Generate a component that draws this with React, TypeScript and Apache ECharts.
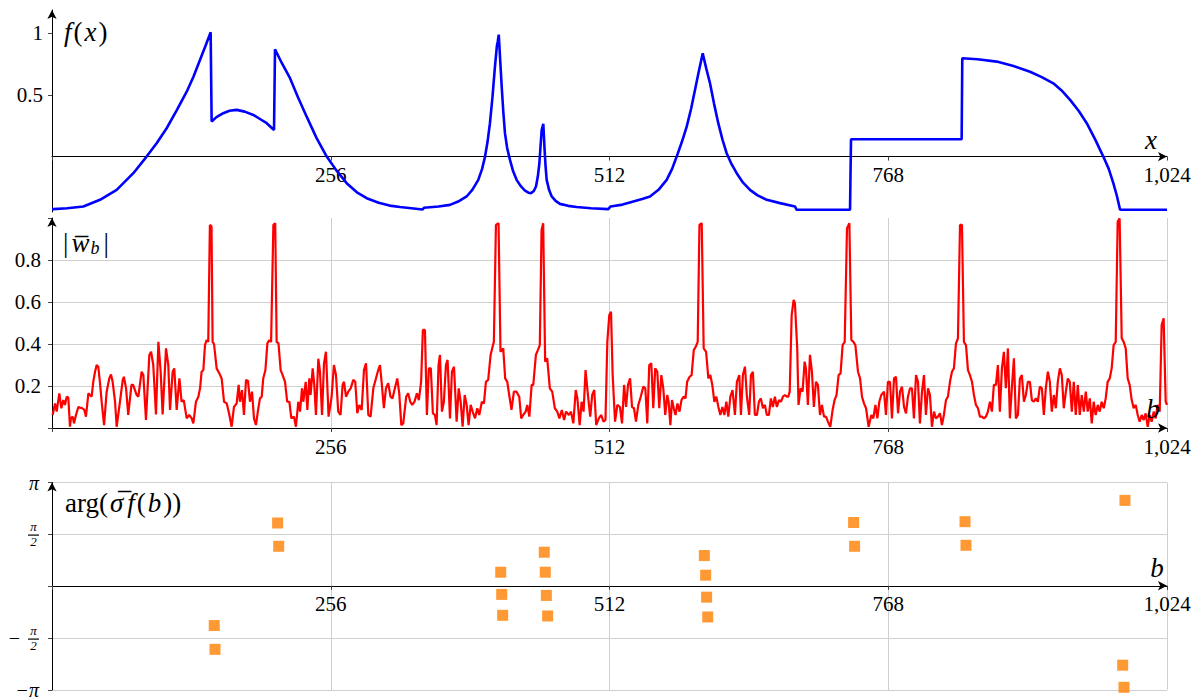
import React, { useEffect, useRef } from "react";
import * as echarts from "echarts";

const FONT = "Liberation Serif";

// f(x): blue signal (x, value)
const fData: number[][] = [
  [0, -0.427], [1.2, -0.427], [14, -0.42], [28.8, -0.405], [44.1, -0.351], [59.4, -0.27], [74.7, -0.135],
  [86.9, 0.0], [96.1, 0.108], [105.3, 0.23], [114.5, 0.375], [123.7, 0.527], [130, 0.65], [135.9, 0.784],
  [141, 0.9], [145.7, 1.01], [146.6, 0.284], [151, 0.32], [157.3, 0.352], [163, 0.372], [169.6, 0.379],
  [177, 0.365], [184.9, 0.338], [191, 0.305], [197.2, 0.271], [203.9, 0.216], [204.8, 0.871], [211, 0.76],
  [218.6, 0.636], [226, 0.48], [233.9, 0.324], [243, 0.15], [252.3, 0.0], [261, -0.11], [270.6, -0.216],
  [280, -0.29], [289, -0.338], [300, -0.375], [310, -0.398], [319.6, -0.41], [330, -0.42], [340.4, -0.43],
  [341.6, -0.416], [355, -0.405], [365.5, -0.392], [373, -0.365], [380.8, -0.324], [386, -0.27],
  [391.5, -0.189], [395, -0.1], [397.7, 0.0], [400, 0.12], [402.2, 0.271], [404.5, 0.48], [406.8, 0.73],
  [408.6, 0.9], [409.3, 0.93], [410.3, 0.99], [411.5, 0.8], [413, 0.568], [414.5, 0.36], [416, 0.19],
  [418, 0.07], [420.6, -0.027], [423.5, -0.12], [426.7, -0.189], [430.5, -0.24], [434.4, -0.276],
  [437.5, -0.293], [439.9, -0.297], [442.5, -0.28], [444.5, -0.243], [446.2, -0.16], [447.6, -0.054],
  [449.7, 0.216], [451.2, 0.265], [452.4, 0.054], [453.3, -0.08], [454.3, -0.189], [456.5, -0.27],
  [458.9, -0.324], [462.5, -0.36], [466.5, -0.384], [474, -0.4], [481.8, -0.41], [495, -0.42], [510.9, -0.427],
  [513, -0.405], [524, -0.39], [533.9, -0.365], [542, -0.345], [549.2, -0.324], [557, -0.27], [564.5, -0.189],
  [569.5, -0.1], [573.7, 0.0], [578.5, 0.12], [582.9, 0.243], [587, 0.39], [590.5, 0.541], [594, 0.69],
  [597.6, 0.838], [601, 0.71], [604.3, 0.595], [608, 0.43], [611.9, 0.271], [615.7, 0.14], [619.6, 0.027],
  [624, -0.06], [628.8, -0.135], [634.5, -0.21], [641, -0.27], [648, -0.315], [656.4, -0.351], [668.6, -0.378],
  [682.3, -0.405], [683.9, -0.432], [732.9, -0.432], [733.8, 0.141], [835.4, 0.141], [836, 0.798],
  [850, 0.79], [867.6, 0.771], [883, 0.735], [898.2, 0.689], [909, 0.645], [919.6, 0.595], [928, 0.53],
  [935, 0.46], [943, 0.37], [950.3, 0.271], [958, 0.14], [965.5, 0.0], [970.5, -0.1], [974.7, -0.216],
  [978, -0.32], [980.9, -0.432], [1024, -0.432]
];

// |w_b|: red magnitude (b, value)
const wData: number[][] = [
  [0.6, 0.062], [2.8, 0.117], [4.3, 0.078], [6.7, 0.165], [8.6, 0.094], [10.4, 0.133], [11.9, 0.11],
  [13.5, 0.149], [15, 0.144], [16.5, 0.006], [17.4, 0.046], [19, 0.054], [20.2, 0.022], [22, 0.062],
  [24.2, 0.1], [25.7, 0.097], [27.8, 0.094], [29.7, 0.086], [31.2, 0.054], [33.4, 0.165], [34.9, 0.157],
  [36.4, 0.149], [37.9, 0.22], [39.5, 0.267], [41, 0.3], [42.5, 0.292], [44, 0.22], [45.6, 0.125],
  [47.8, 0.014], [50.2, 0.173], [52.6, 0.236], [54.2, 0.255], [55.7, 0.22], [57.9, 0.125], [59.4, 0.006],
  [62.4, 0.125], [65, 0.229], [66, 0.244], [68, 0.19], [70, 0.062], [73, 0.205], [74.5, 0.205],
  [77.8, 0.157], [79.3, 0.149], [82.3, 0.268], [83.9, 0.252], [86.3, 0.038], [89.4, 0.348], [91, 0.363],
  [93, 0.3], [95.5, 0.065], [97.7, 0.41], [99.8, 0.268], [101.6, 0.065], [104.7, 0.379], [106.8, 0.3],
  [108.4, 0.086], [110.8, 0.268], [112.3, 0.284], [114.5, 0.086], [117, 0.236], [119, 0.125], [121, 0.133],
  [123.7, 0.046], [126, 0.062], [128.3, 0.046], [129.8, 0.022], [132.2, 0.125], [134.4, 0.149], [136, 0.19],
  [137.4, 0.268], [139, 0.276], [140.5, 0.395], [142, 0.419], [143.5, 0.41], [145, 0.967], [146.5, 0.96],
  [147.5, 0.41], [148.8, 0.4], [151.2, 0.284], [153.7, 0.26], [155.8, 0.236], [158, 0.125], [160.5, 0.117],
  [162.9, 0.062], [165, 0.006], [167.1, 0.1], [169.6, 0.117], [171.4, 0.205], [172.6, 0.125], [174.5, 0.18],
  [176.3, 0.062], [178.2, 0.229], [180, 0.224], [181.8, 0.125], [183.7, 0.173], [185.5, 0.046], [187.3, 0.014],
  [189.5, 0.094], [191, 0.141], [192.6, 0.149], [194, 0.236], [196, 0.276], [197.8, 0.403], [199.6, 0.419],
  [201.2, 0.41], [203.3, 0.967], [205, 0.975], [206.3, 0.41], [208, 0.403], [210, 0.276], [211.8, 0.252],
  [214, 0.22], [216, 0.125], [218, 0.125], [219.8, 0.046], [222.2, 0.054], [224, 0.006], [226.2, 0.125],
  [227.8, 0.078], [229.6, 0.189], [230.8, 0.125], [233, 0.22], [234.5, 0.086], [236.3, 0.236], [237.5, 0.157],
  [239.4, 0.284], [240.9, 0.205], [242.4, 0.062], [244.6, 0.33], [246.1, 0.268], [248, 0.062], [249.8, 0.308],
  [251.6, 0.363], [254, 0.054], [256.8, 0.149], [258.9, 0.3], [260.8, 0.252], [262.9, 0.078], [265, 0.062],
  [266.9, 0.205], [268.2, 0.22], [270, 0.149], [272.1, 0.173], [274.3, 0.189], [276.7, 0.229], [278.5, 0.22],
  [280.4, 0.07], [282.2, 0.11], [284.4, 0.086], [286.5, 0.276], [288.4, 0.308], [290.5, 0.062], [292.6, 0.054],
  [295.1, 0.189], [297.5, 0.236], [299.6, 0.276], [301.2, 0.3], [302.7, 0.22], [304.8, 0.094], [306.7, 0.189],
  [308.8, 0.213], [310.9, 0.149], [312.7, 0.141], [314.9, 0.189], [317.1, 0.236], [318.9, 0.165], [320.8, 0.014],
  [322.6, 0.022], [325.3, 0.149], [327.1, 0.165], [329, 0.125], [330.8, 0.11], [332.9, 0.125], [335.1, 0.165],
  [336.9, 0.133], [339, 0.22], [340.6, 0.467], [342.5, 0.467], [344.3, 0.062], [346.1, 0.284], [347.9, 0.284],
  [349.8, 0.07], [351.7, 0.062], [353.2, 0.014], [355, 0.3], [356.3, 0.348], [358.1, 0.078], [359.9, 0.125],
  [361.8, 0.3], [363.3, 0.324], [365.5, 0.046], [367.3, 0.268], [369.2, 0.292], [371.6, 0.03], [373.5, 0.189],
  [375.3, 0.125], [377.1, 0.006], [379, 0.157], [380.8, 0.11], [382.6, 0.014], [384.5, 0.11], [386.3, 0.078],
  [388.5, 0.046], [390.6, 0.094], [392.4, 0.062], [394.8, 0.125], [396.7, 0.117], [398.5, 0.22], [400.6, 0.229],
  [402.8, 0.348], [404.6, 0.387], [405.8, 0.41], [407.7, 0.967], [410.1, 0.975], [411.9, 0.363], [414.4, 0.379],
  [416.2, 0.236], [418.1, 0.22], [419.9, 0.157], [422, 0.086], [424.2, 0.173], [426.6, 0.173], [429.1, 0.149],
  [430.9, 0.046], [432.7, 0.062], [435, 0.078], [436.5, 0.11], [438.4, 0.054], [440.5, 0.205], [442, 0.205],
  [444.4, 0.348], [446.2, 0.371], [448, 0.395], [449.6, 0.943], [451.1, 0.975], [452.9, 0.316], [454.8, 0.332],
  [457.2, 0.189], [459.4, 0.173], [461.8, 0.094], [464, 0.078], [466, 0.046], [468.2, 0.086], [470.3, 0.038],
  [472.1, 0.078], [474.7, 0.062], [476.6, 0.078], [478.8, 0.022], [481, 0.181], [482.5, 0.141], [484.6, 0.014],
  [486.4, 0.125], [488.2, 0.078], [490, 0.276], [492.2, 0.157], [494.3, 0.054], [496.1, 0.157], [498, 0.181],
  [499.8, 0.014], [502.2, 0.046], [504.4, 0.062], [506.5, 0.03], [508.3, 0.038], [510, 0.41], [511.8, 0.538],
  [513.4, 0.554], [514.9, 0.252], [517.1, 0.03], [519.2, 0.11], [521.6, 0.1], [523.5, 0.022], [525.4, 0.205],
  [527.2, 0.1], [529, 0.205], [530.9, 0.236], [532.7, 0.1], [534.5, 0.094], [536.3, 0.03], [538.5, 0.11],
  [540.7, 0.149], [543.1, 0.197], [544.9, 0.189], [546.7, 0.022], [548.5, 0.3], [550.4, 0.308], [552.2, 0.094],
  [554, 0.284], [555.9, 0.268], [557.7, 0.094], [559.6, 0.252], [561.4, 0.189], [563.2, 0.062], [565, 0.157],
  [566.3, 0.125], [567.9, 0.014], [569.4, 0.133], [571, 0.094], [572.6, 0.062], [574.4, 0.117], [576.3, 0.078],
  [578.1, 0.133], [580, 0.149], [581.8, 0.141], [583.3, 0.22], [585.6, 0.244], [587.4, 0.252], [589.4, 0.371],
  [591.2, 0.387], [593, 0.41], [594.6, 0.967], [596.7, 0.975], [598.5, 0.379], [600.7, 0.363], [602.8, 0.236],
  [604.6, 0.252], [606.4, 0.205], [608.3, 0.125], [610.1, 0.149], [612, 0.1], [613.8, 0.062], [615.7, 0.1],
  [617.5, 0.062], [619.3, 0.125], [621.1, 0.054], [623, 0.149], [625, 0.181], [627.2, 0.062], [629, 0.22],
  [631.2, 0.252], [632.7, 0.062], [634.5, 0.252], [636.4, 0.292], [638.2, 0.149], [640.3, 0.062], [641.9, 0.252],
  [643.7, 0.268], [645.5, 0.062], [647.4, 0.062], [649.2, 0.125], [651, 0.141], [652.9, 0.094], [654.7, 0.11],
  [656.5, 0.062], [658.4, 0.062], [660.2, 0.141], [662, 0.1], [663.9, 0.149], [665.7, 0.1], [667.6, 0.133],
  [669.4, 0.125], [671.3, 0.149], [673.1, 0.157], [675, 0.149], [676.2, 0.149], [677.5, 0.173], [679.3, 0.538],
  [681.1, 0.61], [682.3, 0.594], [684.4, 0.379], [685.6, 0.11], [687.5, 0.189], [689.3, 0.173], [691.2, 0.316],
  [692.4, 0.284], [694.2, 0.11], [696.1, 0.348], [697.9, 0.268], [699.7, 0.1], [701.6, 0.22], [703.4, 0.205],
  [705.3, 0.062], [707.1, 0.11], [709, 0.054], [710.8, 0.054], [712.6, 0.03], [714.8, 0.006], [716.9, 0.086],
  [718.7, 0.133], [720.5, 0.157], [722.4, 0.252], [724.2, 0.26], [726.1, 0.395], [728, 0.41], [730.1, 0.95],
  [732.3, 0.975], [734.1, 0.419], [736, 0.41], [737.8, 0.395], [740.2, 0.268], [742.1, 0.236], [743.9, 0.149],
  [745.7, 0.117], [747.6, 0.094], [750, 0.006], [752.5, 0.062], [754.3, 0.046], [756.2, 0.11], [758, 0.046],
  [759.8, 0.125], [761.6, 0.157], [764.1, 0.173], [765.9, 0.062], [767.7, 0.22], [769.6, 0.22], [771.4, 0.046],
  [773.3, 0.236], [775.1, 0.244], [777, 0.07], [778.8, 0.173], [780.6, 0.197], [782.5, 0.1], [784.3, 0.07],
  [786.1, 0.149], [788, 0.189], [789.8, 0.189], [791.6, 0.046], [793.5, 0.252], [795.3, 0.22], [797.1, 0.022],
  [799, 0.173], [800.8, 0.252], [802.6, 0.062], [804.5, 0.189], [806.3, 0.157], [808.1, 0.006], [810, 0.078],
  [811.8, 0.046], [813.6, 0.054], [815.5, 0.07], [817.3, 0.014], [819.1, 0.062], [821, 0.133], [822.8, 0.149],
  [824.7, 0.22], [826.5, 0.268], [828.3, 0.284], [830.2, 0.403], [832, 0.427], [833.9, 0.967], [835.7, 0.967],
  [837.5, 0.41], [839.4, 0.395], [841.2, 0.276], [843, 0.252], [844.9, 0.22], [846.7, 0.157], [848.5, 0.11],
  [850.4, 0.094], [852.2, 0.054], [854, 0.054], [855.9, 0.046], [857.7, 0.054], [859.5, 0.078], [861.4, 0.125],
  [863.2, 0.078], [865, 0.205], [866.9, 0.205], [868.7, 0.3], [870.5, 0.078], [872.4, 0.284], [874.2, 0.363],
  [876, 0.189], [877.9, 0.379], [879.7, 0.046], [881.5, 0.189], [883.4, 0.332], [885.2, 0.046], [887.1, 0.062],
  [888.9, 0.236], [890.7, 0.252], [892.6, 0.125], [894.4, 0.157], [896.2, 0.22], [898.1, 0.22], [899.9, 0.133],
  [901.7, 0.125], [903.6, 0.141], [905.4, 0.125], [907.2, 0.197], [909.1, 0.189], [910.9, 0.062], [912.7, 0.189],
  [914.6, 0.268], [916.4, 0.22], [918.2, 0.078], [920.1, 0.157], [921.9, 0.094], [923.7, 0.22], [925.6, 0.284],
  [927.4, 0.252], [929.2, 0.094], [931.1, 0.173], [932.9, 0.236], [934.7, 0.22], [936.6, 0.078], [938.4, 0.22],
  [940.2, 0.062], [942.1, 0.205], [943.9, 0.062], [945.7, 0.157], [947.6, 0.078], [949.4, 0.173], [951.2, 0.078],
  [953.1, 0.141], [954.9, 0.022], [956.7, 0.125], [958.5, 0.062], [960.4, 0.11], [962.2, 0.078], [964, 0.125],
  [965.9, 0.094], [967.7, 0.141], [969.5, 0.22], [971.4, 0.236], [973.2, 0.284], [975, 0.395], [976.9, 0.41],
  [978.7, 0.983], [980.5, 0.998], [982.4, 0.427], [984.2, 0.41], [986.1, 0.379], [987.9, 0.236], [989.7, 0.205],
  [991.6, 0.133], [993.4, 0.094], [995.3, 0.11], [997.1, 0.062], [998.9, 0.03], [1000.8, 0.062], [1002.6, 0.038],
  [1004.4, 0.07], [1006.3, 0.006], [1008.1, 0.062], [1009.9, 0.03], [1011.8, 0.078], [1013.6, 0.046], [1015.4, 0.11],
  [1017.3, 0.078], [1019.1, 0.49], [1020.9, 0.522], [1022.8, 0.125], [1024, 0.11]
];

// arg(sigma f(b)): orange squares (b, phase)
const argData: number[][] = [
  [149.0, -1.19], [149.7, -1.91], [207.2, 1.915], [208.2, 1.21],
  [412.1, 0.425], [413.0, -0.247], [413.9, -0.88],
  [452.1, 1.03], [453.0, 0.425], [454.0, -0.278], [455.2, -0.9],
  [599.1, 0.93], [600.3, 0.335], [601.2, -0.33], [602.2, -0.93],
  [736.2, 1.93], [737.1, 1.21], [838.5, 1.955], [839.4, 1.24],
  [985.4, 2.6], [983.3, -2.39], [984.5, -3.06]
];

const xMax = 1024;
const xStep = 256;
const fTicks = [0.5, 1];
const wStep = 0.2;
const fMin = -0.45;
const fMax = 1.19;
const halfPi = [-Math.PI / 2, Math.PI / 2];

const near = (a: number, b: number) => Math.abs(a - b) < 1e-6;
const xLabel = (v: number) => (v === 0 ? "" : v.toLocaleString("en-US"));

const GRIDS = [
  { left: 52, right: 36, top: 10, height: 202 },
  { left: 52, right: 36, top: 218, height: 210 },
  { left: 52, right: 36, top: 482.5, height: 208.5 },
];
// x axes sit on the value-zero line: offset from the grid bottom
const zeroOffsets = [
  -(GRIDS[0].height * (0 - fMin)) / (fMax - fMin),
  0,
  -GRIDS[2].height / 2,
];
const FRAC_MARGIN = 13; // gap between y axis and the ±π/2 fraction labels
const FRAC_WIDTH = 11;

function makeX(i: number) {
  return {
    gridIndex: i,
    type: "value",
    min: 0,
    max: xMax,
    interval: xStep,
    offset: zeroOffsets[i],
    axisLine: {
      show: true,
      onZero: false,
      symbol: ["none", "arrow"],
      symbolSize: [7, 9],
      lineStyle: { color: "#000", width: 1 },
    },
    axisTick: { show: true, length: 4, lineStyle: { color: "#444" } },
    axisLabel: {
      formatter: xLabel,
      fontFamily: FONT,
      fontSize: 21,
      color: "#000",
      margin: 8,
    },
    splitLine: { show: i > 0, lineStyle: { color: "#cfcfcf", width: 1 } },
  };
}

const yArrow = {
  show: true,
  onZero: false,
  symbol: ["none", "arrow"],
  symbolSize: [7, 9],
  lineStyle: { color: "#000", width: 1 },
};

export default function App() {
  const ref = useRef<HTMLDivElement>(null);
  useEffect(() => {
    if (!ref.current) return;
    const chart = echarts.init(ref.current, null, { renderer: "svg" });
    const italic = { fontFamily: FONT, fontStyle: "italic", fontSize: 27, fill: "#000", padding: [0, 2, 0, 2] };
    const upright = { fontFamily: FONT, fontSize: 27, fill: "#000" };

    // fraction bars of the ±π/2 tick labels (same linear mapping as the phase axis)
    const g = GRIDS[2];
    const axisX = g.left - FRAC_MARGIN;
    const bars = halfPi.map((v) => {
      const py = g.top + (g.height * (Math.PI - v)) / (2 * Math.PI);
      return {
        type: "rect",
        z: 100,
        silent: true,
        shape: { x: axisX - FRAC_WIDTH, y: Math.round(py) - 0.5, width: FRAC_WIDTH, height: 1.2 },
        style: { fill: "#000", stroke: "none" },
      };
    });

    const texts: any[] = [
      {
        type: "text",
        x: 62,
        y: 32,
        z: 10,
        style: {
          text: "{i|f}{r|(}{i|x}{r|)}",
          verticalAlign: "middle",
          rich: { i: italic, r: upright },
        },
      },
      {
        type: "text",
        x: 1151,
        y: 140,
        z: 10,
        style: { text: "x", align: "center", verticalAlign: "middle", ...italic, padding: 0 },
      },
      {
        type: "text",
        x: 63,
        y: 243,
        z: 10,
        style: {
          text: "{r||}{i|w\u0305}{s|b}{r||}",
          verticalAlign: "middle",
          rich: {
            r: { ...upright, lineHeight: 28 },
            i: { ...italic, lineHeight: 28, padding: [0, 1, 0, 3] },
            s: { fontFamily: FONT, fontStyle: "italic", fontSize: 18, fill: "#000", verticalAlign: "bottom", lineHeight: 16, padding: [0, 4, 0, 0] },
          },
        },
      },
      {
        type: "text",
        x: 1153,
        y: 409,
        z: 10,
        style: { text: "b", align: "center", verticalAlign: "middle", ...italic, padding: 0 },
      },
      {
        type: "text",
        x: 65,
        y: 503,
        z: 10,
        style: {
          text: "{r|arg(}{i|σ\u0305}{i|f}{r|(}{i|b}{r|))}",
          verticalAlign: "middle",
          rich: { i: italic, r: upright },
        },
      },
      {
        type: "text",
        x: 1157,
        y: 568,
        z: 10,
        style: { text: "b", align: "center", verticalAlign: "middle", ...italic, padding: 0 },
      },
    ];
    const option: any = {
      animation: false,
      backgroundColor: "#fff",
      textStyle: { fontFamily: FONT, color: "#000" },
      grid: GRIDS,
      xAxis: [makeX(0), makeX(1), makeX(2)],
      yAxis: [
        {
          gridIndex: 0,
          type: "value",
          min: fMin,
          max: fMax,
          axisLine: yArrow,
          axisTick: { show: true, length: 4, customValues: fTicks, lineStyle: { color: "#444" } },
          axisLabel: {
            customValues: fTicks,
            formatter: (v: number) => String(v),
            fontFamily: FONT,
            fontSize: 21,
            color: "#000",
            margin: 9,
          },
          splitLine: { show: false },
        },
        {
          gridIndex: 1,
          type: "value",
          min: 0,
          max: 1,
          interval: wStep,
          axisLine: yArrow,
          axisTick: { show: true, length: 4, lineStyle: { color: "#444" } },
          axisLabel: {
            formatter: (v: number) => (v <= 0 || v >= 0.99 ? "" : v.toFixed(1)),
            fontFamily: FONT,
            fontSize: 21,
            color: "#000",
            margin: 11,
          },
          splitLine: {
            show: true,
            lineStyle: {
              color: ["rgba(0,0,0,0)", "#cfcfcf", "#cfcfcf", "#cfcfcf", "#cfcfcf", "rgba(0,0,0,0)"],
              width: 1,
            },
          },
        },
        {
          gridIndex: 2,
          type: "value",
          min: -Math.PI,
          max: Math.PI,
          interval: Math.PI / 2,
          axisLine: yArrow,
          axisTick: { show: true, length: 4, lineStyle: { color: "#444" } },
          axisLabel: {
            formatter: (v: number) => {
              if (near(v, Math.PI)) return "{m|π}";
              if (near(Math.abs(v), Math.PI / 2)) return "{n|π}\n{n|2}";
              if (near(v, -Math.PI)) return "{m|−π}";
              return "";
            },
            margin: FRAC_MARGIN,
            rich: {
              m: { fontFamily: FONT, fontStyle: "italic", fontSize: 20, color: "#000" },
              n: { fontFamily: FONT, fontStyle: "italic", fontSize: 13, color: "#000", width: FRAC_WIDTH, align: "center", lineHeight: 15 },
            },
          },
          splitLine: { show: true, lineStyle: { color: "#cfcfcf", width: 1 } },
        },
        {
          // minus sign of the −π/2 label
          gridIndex: 2,
          type: "value",
          min: -Math.PI,
          max: Math.PI,
          position: "left",
          offset: FRAC_MARGIN,
          axisLine: { show: false, onZero: false },
          axisTick: { show: false },
          axisLabel: {
            customValues: [-Math.PI / 2],
            formatter: () => "−",
            fontFamily: FONT,
            fontSize: 20,
            color: "#000",
            margin: 19,
          },
          splitLine: { show: false },
        },
      ],
      series: [
        {
          type: "line",
          xAxisIndex: 0,
          yAxisIndex: 0,
          data: fData,
          showSymbol: false,
          lineStyle: { color: "#0000ff", width: 2.6 },
          itemStyle: { color: "#0000ff" },
          z: 3,
        },
        {
          type: "line",
          xAxisIndex: 1,
          yAxisIndex: 1,
          data: wData,
          showSymbol: false,
          lineStyle: { color: "#ff0000", width: 2.2 },
          itemStyle: { color: "#ff0000" },
          z: 3,
        },
        {
          type: "scatter",
          xAxisIndex: 2,
          yAxisIndex: 2,
          data: argData,
          symbol: "rect",
          symbolSize: 11,
          itemStyle: { color: "#ff8000" },
          z: 3,
        },
      ],
      graphic: { elements: [...texts, ...bars] },
    };
    chart.setOption(option);
    return () => chart.dispose();
  }, []);
  return (
    <div
      ref={ref}
      style={{ position: "absolute", left: 0, top: 0, width: 1203, height: 700, background: "#fff" }}
    />
  );
}
